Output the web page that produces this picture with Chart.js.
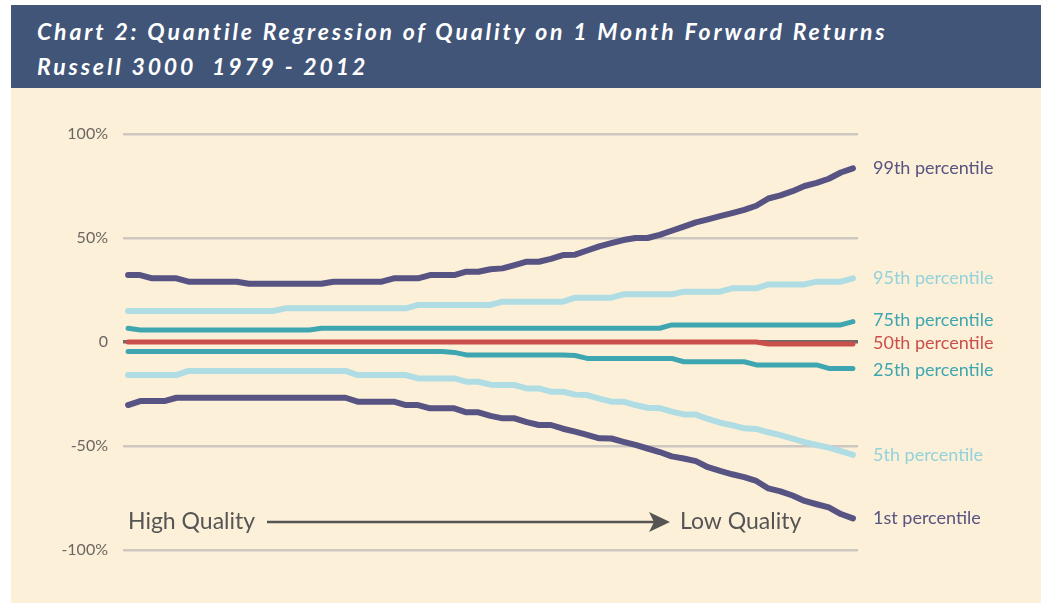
<!DOCTYPE html>
<html>
<head>
<meta charset="utf-8">
<script src="https://cdn.jsdelivr.net/npm/chart.js@4.4.1/dist/chart.umd.min.js"></script>
<style>
  html, body { margin: 0; padding: 0; background: #ffffff; }
  body { width: 1041px; height: 603px; position: relative; overflow: hidden; }
  #banner {
    position: absolute; left: 11px; top: 5px; width: 1030px; height: 83px;
    background: #415579; color: #ffffff;
    font-family: Lato, "Open Sans", sans-serif; font-weight: 700; font-style: italic;
    font-size: 23px; letter-spacing: 2.85px; line-height: 31px;
  }
  #banner div { position: absolute; left: 26px; white-space: nowrap; }
  #panel { position: absolute; left: 11px; top: 88px; width: 1030px; height: 515px; background: #fdf0d8; }
  #wrap { position: absolute; left: 0; top: 88px; width: 1041px; height: 515px; }
</style>
</head>
<body>
<div id="banner">
  <div style="top:11px">Chart 2: Quantile Regression of Quality on 1 Month Forward Returns</div>
  <div style="top:46px">Russell 3000&nbsp; 1979 - 2012</div>
</div>
<div id="panel"></div>
<div id="wrap"><canvas id="chart"></canvas></div>
<script>
// quality buckets, high quality (left) to low quality (right)
const steps = Array.from({ length: 61 }, (_, i) => i);

const p99 = [32.2, 32.2, 30.6, 30.6, 30.6, 29, 29, 29, 29, 29, 28, 28, 28, 28, 28, 28, 28, 29, 29, 29,
  29, 29, 30.6, 30.6, 30.6, 32.2, 32.2, 32.2, 33.8, 33.8, 35, 35.4, 37, 38.6, 38.6, 40, 41.8, 42, 44, 46,
  47.5, 49, 50, 50, 51.5, 53.5, 55.5, 57.5, 59, 60.5, 62, 63.5, 65.5, 69, 70.5, 72.5, 75, 76.5, 78.5, 81.5, 83.5];

const p95 = [14.9, 14.9, 14.9, 14.9, 14.9, 14.9, 14.9, 14.9, 14.9, 14.9, 14.9, 14.9, 14.9, 16.2, 16.2, 16.2, 16.2, 16.2, 16.2, 16.2,
  16.2, 16.2, 16.2, 16.2, 17.8, 17.8, 17.8, 17.8, 17.8, 17.8, 17.8, 19.4, 19.4, 19.4, 19.4, 19.4, 19.4, 21.3, 21.3, 21.3,
  21.3, 22.9, 22.9, 22.9, 22.9, 22.9, 24.2, 24.2, 24.2, 24.2, 25.8, 25.8, 25.8, 27.7, 27.7, 27.7, 27.7, 29, 29, 29, 30.6];

const p75 = [6.6, 5.8, 5.8, 5.8, 5.8, 5.8, 5.8, 5.8, 5.8, 5.8, 5.8, 5.8, 5.8, 5.8, 5.8, 5.8, 6.6, 6.6, 6.6, 6.6,
  6.6, 6.6, 6.6, 6.6, 6.6, 6.6, 6.6, 6.6, 6.6, 6.6, 6.6, 6.6, 6.6, 6.6, 6.6, 6.6, 6.6, 6.6, 6.6, 6.6,
  6.6, 6.6, 6.6, 6.6, 6.6, 8.2, 8.2, 8.2, 8.2, 8.2, 8.2, 8.2, 8.2, 8.2, 8.2, 8.2, 8.2, 8.2, 8.2, 8.2, 9.8];

const p50 = [0, 0, 0, 0, 0, 0, 0, 0, 0, 0, 0, 0, 0, 0, 0, 0, 0, 0, 0, 0,
  0, 0, 0, 0, 0, 0, 0, 0, 0, 0, 0, 0, 0, 0, 0, 0, 0, 0, 0, 0,
  0, 0, 0, 0, 0, 0, 0, 0, 0, 0, 0, 0, 0, -1, -1, -1, -1, -1, -1, -1, -1];

const p25 = [-4.6, -4.6, -4.6, -4.6, -4.6, -4.6, -4.6, -4.6, -4.6, -4.6, -4.6, -4.6, -4.6, -4.6, -4.6, -4.6, -4.6, -4.6, -4.6, -4.6,
  -4.6, -4.6, -4.6, -4.6, -4.6, -4.6, -4.6, -5, -6.2, -6.2, -6.2, -6.2, -6.2, -6.2, -6.2, -6.2, -6.2, -6.5, -7.9, -7.9,
  -7.9, -7.9, -7.9, -7.9, -7.9, -7.9, -9.5, -9.5, -9.5, -9.5, -9.5, -9.5, -11, -11, -11, -11, -11, -11, -12.7, -12.7, -12.7];

const p5 = [-15.9, -15.9, -15.9, -15.9, -15.9, -13.9, -13.9, -13.9, -13.9, -13.9, -13.9, -13.9, -13.9, -13.9, -13.9, -13.9, -13.9, -13.9, -13.9, -15.9,
  -15.9, -15.9, -15.9, -15.9, -17.5, -17.5, -17.5, -17.5, -19.1, -19.1, -20.5, -20.7, -20.7, -22.3, -22.3, -23.9, -23.9, -25.3, -25.5, -27.2,
  -28.7, -28.7, -30.3, -31.6, -31.8, -33.5, -34.8, -34.9, -37, -38.8, -40, -41.5, -41.8, -43.4, -44.8, -46.5, -48.1, -49.5, -50.8, -52.5, -54.3];

const p1 = [-30.3, -28.4, -28.4, -28.4, -26.8, -26.8, -26.8, -26.8, -26.8, -26.8, -26.8, -26.8, -26.8, -26.8, -26.8, -26.8, -26.8, -26.8, -26.8, -28.7,
  -28.7, -28.7, -28.7, -30.3, -30.3, -31.9, -31.9, -31.9, -33.8, -33.8, -35.5, -36.7, -36.7, -38.5, -39.9, -39.9, -41.7, -43.1, -44.7, -46.3,
  -46.4, -48, -49.5, -51.2, -52.9, -55, -56, -57.3, -60.2, -62, -63.6, -65, -66.8, -70.4, -71.8, -73.8, -76.4, -78, -79.5, -82.7, -84.8];

const yTicks = [-100, -50, 0, 50, 100];
const seriesNames = ['99th percentile', '95th percentile', '75th percentile', '50th percentile', '25th percentile', '5th percentile', '1st percentile'];

const PURPLE = '#575382', LIGHT = '#afdde3', TEAL = '#3ea6b0', RED = '#c9504a';
const labelColors = [PURPLE, '#93d2db', TEAL, RED, TEAL, '#93d2db', PURPLE];
const labelNudge = [0, 0, -1, -1, 2, 0, 0];

function ds(label, data, color, width) {
  return {
    label: label,
    data: data.map((v, i) => ({ x: steps[i], y: v })),
    borderColor: color,
    borderWidth: width,
    borderCapStyle: 'round',
    borderJoinStyle: 'round',
    pointRadius: 0,
    tension: 0,
    fill: false
  };
}

const sideLabels = {
  id: 'sideLabels',
  afterDatasetsDraw(chart) {
    const ctx = chart.ctx;
    const area = chart.chartArea;
    ctx.save();
    ctx.font = '18px Lato, "Open Sans", sans-serif';
    ctx.textBaseline = 'middle';
    ctx.textAlign = 'left';
    chart.data.datasets.forEach((d, i) => {
      const meta = chart.getDatasetMeta(i);
      const last = meta.data[meta.data.length - 1];
      ctx.fillStyle = labelColors[i];
      ctx.fillText(seriesNames[i], area.right + 15, last.y + labelNudge[i]);
    });

    // quality direction annotation
    const y = chart.scales.y.getPixelForValue(-86.5);
    ctx.fillStyle = '#555555';
    ctx.font = '23px Lato, "Open Sans", sans-serif';
    ctx.fillText('High Quality', 128, y);
    ctx.fillText('Low Quality', 680, y);
    ctx.strokeStyle = '#555555';
    ctx.lineWidth = 2.5;
    ctx.beginPath();
    ctx.moveTo(267, y);
    ctx.lineTo(658, y);
    ctx.stroke();
    ctx.beginPath();
    ctx.moveTo(670, y);
    ctx.lineTo(649, y - 10);
    ctx.lineTo(654, y);
    ctx.lineTo(649, y + 10);
    ctx.closePath();
    ctx.fill();
    ctx.restore();
  }
};

new Chart(document.getElementById('chart'), {
  type: 'line',
  data: {
    datasets: [
      ds(seriesNames[0], p99, PURPLE, 6),
      ds(seriesNames[1], p95, LIGHT, 6),
      ds(seriesNames[2], p75, TEAL, 5),
      ds(seriesNames[3], p50, RED, 5),
      ds(seriesNames[4], p25, TEAL, 5),
      ds(seriesNames[5], p5, LIGHT, 6),
      ds(seriesNames[6], p1, PURPLE, 6)
    ]
  },
  options: {
    responsive: true,
    maintainAspectRatio: false,
    animation: false,
    layout: { padding: { left: 0, right: 183, top: 46, bottom: 53 } },
    plugins: { legend: { display: false }, tooltip: { enabled: false } },
    scales: {
      x: { type: 'linear', min: -0.42, max: 60.42, display: false },
      y: {
        min: -100, max: 100,
        afterFit(scale) { scale.width = 123; },
        afterBuildTicks(scale) { scale.ticks = yTicks.map(v => ({ value: v })); },
        border: { display: false },
        grid: {
          drawTicks: false,
          color: ctx => ctx.tick && ctx.tick.value === 0 ? '#6f6a66' : '#cdc8c2',
          lineWidth: ctx => ctx.tick && ctx.tick.value === 0 ? 3.5 : 2.5
        },
        ticks: {
          padding: 15,
          color: '#6a6662',
          font: { family: 'Lato, "Open Sans", sans-serif', size: 16 },
          callback: v => v === 0 ? '0' : v + '%'
        }
      }
    }
  },
  plugins: [sideLabels]
});
</script>
</body>
</html>
